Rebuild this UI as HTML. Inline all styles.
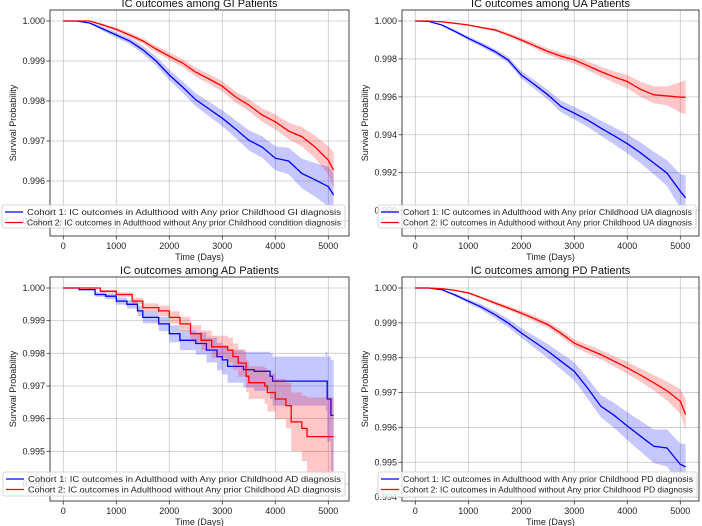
<!DOCTYPE html>
<html><head><meta charset="utf-8"><style>
body{margin:0;background:#fff;}
svg{display:block;font-family:"Liberation Sans",sans-serif;}
</style></head><body>
<svg id="c" width="702" height="526"></svg>
<script>
// ---- data ----
const xTicks=[0,1000,2000,3000,4000,5000];
// GI
const giT=[0,250,500,750,1000,1250,1500,1750,2000,2250,2500,2750,3000,3250,3500,3750,4000,4250,4500,4750,5000,5100];
const giBlue=[1,1,0.99995,0.9998,0.99965,0.9995,0.99928,0.999,0.99865,0.99835,0.99803,0.9978,0.99757,0.9973,0.99702,0.99685,0.99657,0.9965,0.99619,0.99603,0.99586,0.99565];
const giBlueCI=[0,0,0.00002,0.00005,0.00007,0.00008,0.0001,0.00011,0.00013,0.00014,0.00016,0.00018,0.0002,0.00022,0.00025,0.00027,0.0003,0.00033,0.00037,0.00042,0.0005,0.00055];
const giRed=[1,1,1,0.9999,0.99979,0.99965,0.9995,0.9993,0.99912,0.99895,0.99872,0.99855,0.99837,0.9981,0.9979,0.99765,0.99748,0.99725,0.99711,0.99685,0.99652,0.99627];
const giRedCI=[0,0,0.00001,0.00003,0.00005,0.00006,0.00007,0.00008,0.00009,0.0001,0.00011,0.00012,0.00013,0.00014,0.00015,0.00017,0.00019,0.00021,0.00024,0.00028,0.00035,0.00045];
// UA
const uaT=[0,250,500,750,1000,1250,1500,1750,2000,2250,2500,2750,3000,3250,3500,3750,4000,4250,4500,4750,5000,5100];
const uaBlue=[1,0.99998,0.99979,0.99945,0.99909,0.99875,0.99839,0.99795,0.99716,0.99665,0.99611,0.99549,0.99514,0.99478,0.99435,0.99395,0.99353,0.99305,0.99251,0.99198,0.99102,0.99067];
const uaBlueCI=[0,0.00001,0.00004,0.00008,0.0001,0.00012,0.00014,0.00016,0.0002,0.00023,0.00026,0.0003,0.00033,0.00036,0.0004,0.00045,0.0005,0.00055,0.0006,0.00068,0.0009,0.0012];
const uaRed=[1,1,0.99995,0.99988,0.99979,0.99965,0.99953,0.99928,0.999,0.9987,0.99839,0.99815,0.99795,0.99765,0.99733,0.99705,0.99681,0.9964,0.99611,0.99605,0.99598,0.99598];
const uaRedCI=[0,0,0.00001,0.00003,0.00004,0.00006,0.00008,0.0001,0.00012,0.00014,0.00016,0.00018,0.0002,0.00023,0.00026,0.0003,0.00035,0.0004,0.00045,0.0005,0.0008,0.0009];
// AD (step)
const adBlueT=[0,300,600,800,1000,1200,1400,1500,1800,2000,2200,2500,2700,2900,3000,3100,3400,3600,3900,3950,4950,4980,5050,5100];
const adBlue=[1,0.99995,0.9998,0.99975,0.9996,0.9995,0.9993,0.9991,0.9989,0.9986,0.9984,0.9983,0.9981,0.9979,0.9978,0.9976,0.9975,0.99745,0.9973,0.99715,0.99715,0.9966,0.9961,0.9961];
const adBlueCI=[0,0.00003,0.00007,0.00009,0.00011,0.00013,0.00016,0.00018,0.00022,0.00026,0.0003,0.00034,0.00038,0.00042,0.00045,0.0005,0.00055,0.0006,0.0007,0.00075,0.0009,0.0013,0.0017,0.0017];
const adRedT=[0,300,700,1000,1300,1500,1800,2000,2200,2400,2600,2800,3100,3200,3300,3450,3500,3800,3850,4000,4200,4300,4500,4600,5100];
const adRed=[1,1,0.9999,0.9998,0.9996,0.9994,0.9993,0.9991,0.9989,0.9986,0.9984,0.9982,0.9981,0.9979,0.9977,0.9973,0.9971,0.997,0.9968,0.9966,0.9964,0.9959,0.9957,0.99545,0.99545];
const adRedCI=[0,0.00001,0.00004,0.00007,0.0001,0.00013,0.00016,0.00019,0.00022,0.00026,0.0003,0.00034,0.00038,0.0004,0.00042,0.00048,0.0005,0.00055,0.00058,0.00062,0.0007,0.0009,0.001,0.0012,0.0012];
// PD
const pdT=[0,250,500,750,1000,1250,1500,1750,2000,2250,2500,2750,3000,3250,3500,3750,4000,4250,4500,4750,5000,5100];
const pdBlue=[1,1,0.99995,0.9998,0.99962,0.99945,0.99924,0.999,0.99871,0.99845,0.99819,0.9979,0.99761,0.99713,0.99661,0.99635,0.99604,0.99575,0.99546,0.99541,0.99494,0.99487];
const pdBlueCI=[0,0,0.00002,0.00004,0.00006,0.00008,0.0001,0.00012,0.00014,0.00017,0.0002,0.00023,0.00026,0.00029,0.00032,0.00036,0.0004,0.00044,0.00048,0.00053,0.0006,0.00065];
const pdRed=[1,1,0.99998,0.99993,0.99986,0.99972,0.99957,0.99943,0.99928,0.99912,0.99895,0.9987,0.99842,0.99825,0.99809,0.9979,0.99771,0.9975,0.99728,0.99705,0.99675,0.99637];
const pdRedCI=[0,0,0.00001,0.00002,0.00003,0.00004,0.00005,0.00006,0.00007,0.00008,0.00009,0.0001,0.00011,0.00012,0.00013,0.00015,0.00017,0.00019,0.00022,0.00027,0.00035,0.00045];
const yTicksGI=[1.000,0.999,0.998,0.997,0.996,0.995];
const yTicksUA=[1.000,0.998,0.996,0.994,0.992,0.990];
const yTicksAD=[1.000,0.999,0.998,0.997,0.996,0.995,0.994];
const yTicksPD=[1.000,0.999,0.998,0.997,0.996,0.995,0.994];

const NS='http://www.w3.org/2000/svg';
const svg=document.getElementById('c');
function mk(tag,attrs,parent){const e=document.createElementNS(NS,tag);for(const k in attrs)e.setAttribute(k,attrs[k]);(parent||svg).appendChild(e);return e;}

const panels=[
 {id:'gi',title:'IC outcomes among GI Patients',box:[50,10,349,236],x0:63.3,x1:328.3,yA:1.0,pA:21,yB:0.996,pB:181,yt:yTicksGI,step:false,
  s:[[giT,giBlue,giBlueCI,'#0000ff'],[giT,giRed,giRedCI,'#ff0000']],leg:[2,205,345,228],
  l1:'Cohort 1: IC outcomes in Adulthood with Any prior Childhood GI diagnosis',l2:'Cohort 2: IC outcomes in Adulthood without Any prior Childhood condition diagnosis'},
 {id:'ua',title:'IC outcomes among UA Patients',box:[402,10,699,236],x0:415.3,x1:680.3,yA:1.0,pA:21,yB:0.992,pB:172.7,yt:yTicksUA,step:false,
  s:[[uaT,uaBlue,uaBlueCI,'#0000ff'],[uaT,uaRed,uaRedCI,'#ff0000']],leg:[378,205,696,228],
  l1:'Cohort 1: IC outcomes in Adulthood with Any prior Childhood UA diagnosis',l2:'Cohort 2: IC outcomes in Adulthood without Any prior Childhood UA diagnosis'},
 {id:'ad',title:'IC outcomes among AD Patients',box:[50,277,349,501],x0:63.3,x1:328.3,yA:1.0,pA:288,yB:0.995,pB:451.3,yt:yTicksAD,step:true,
  s:[[adBlueT,adBlue,adBlueCI,'#0000ff'],[adRedT,adRed,adRedCI,'#ff0000']],leg:[3,472,345,496],
  l1:'Cohort 1: IC outcomes in Adulthood with Any prior Childhood AD diagnosis',l2:'Cohort 2: IC outcomes in Adulthood without Any prior Childhood AD diagnosis'},
 {id:'pd',title:'IC outcomes among PD Patients',box:[402,277,699,501],x0:415.3,x1:680.3,yA:1.0,pA:288,yB:0.995,pB:462.3,yt:yTicksPD,step:false,
  s:[[pdT,pdBlue,pdBlueCI,'#0000ff'],[pdT,pdRed,pdRedCI,'#ff0000']],leg:[378,472,697,497],
  l1:'Cohort 1: IC outcomes in Adulthood with Any prior Childhood PD diagnosis',l2:'Cohort 2: IC outcomes in Adulthood without Any prior Childhood PD diagnosis'}
];

panels.forEach(p=>{
 const [L,T,R,B]=p.box;
 const X=v=>p.x0+(p.x1-p.x0)*v/5000;
 const Y=v=>p.pA+(p.pB-p.pA)*(p.yA-v)/(p.yA-p.yB);
 const g=mk('g',{});
 
 
 const cp=mk('clipPath',{id:'cl-'+p.id},g);mk('rect',{x:L,y:T,width:R-L,height:B-T},cp);
 // grid + ticks
 xTicks.forEach(v=>{
  mk('line',{x1:X(v),x2:X(v),y1:T,y2:B,stroke:'#b0b0b0','stroke-width':0.8,'stroke-opacity':0.7},g);
  mk('line',{x1:X(v),x2:X(v),y1:B,y2:B+3.5,stroke:'#333','stroke-width':0.8},g);
  const t=mk('text',{x:X(v),y:B+13,'font-size':9,'text-anchor':'middle',fill:'#222'},g);t.textContent=v;
  
  
 });
 p.yt.forEach(v=>{
  mk('line',{x1:L,x2:R,y1:Y(v),y2:Y(v),stroke:'#b0b0b0','stroke-width':0.8,'stroke-opacity':0.7},g);
  mk('line',{x1:L-3.5,x2:L,y1:Y(v),y2:Y(v),stroke:'#333','stroke-width':0.8},g);
  const t=mk('text',{x:L-5,y:Y(v)+3,'font-size':9,'text-anchor':'end',fill:'#222'},g);t.textContent=v.toFixed(3);
  
  
 });
 const cg=mk('g',{'clip-path':'url(#cl-'+p.id+')'},g);
 p.s.forEach(([t,v,ci,col],si)=>{
  let pts=[],up=[],lo=[];
  for(let i=0;i<t.length;i++){
   if(p.step&&i>0){pts.push([X(t[i]),Y(v[i-1])]);up.push([X(t[i]),Y(v[i-1]+ci[i-1])]);lo.push([X(t[i]),Y(v[i-1]-ci[i-1])]);}
   pts.push([X(t[i]),Y(v[i])]);up.push([X(t[i]),Y(v[i]+ci[i])]);lo.push([X(t[i]),Y(v[i]-ci[i])]);
  }
  const band=up.concat(lo.slice().reverse()).map(q=>q[0].toFixed(1)+','+q[1].toFixed(1)).join(' ');
  const b=mk('polygon',{points:band,fill:col,'fill-opacity':0.22,stroke:'none'},cg);
  
  
  const ln=mk('polyline',{points:pts.map(q=>q[0].toFixed(1)+','+q[1].toFixed(1)).join(' '),fill:'none',stroke:col,'stroke-width':1.3},cg);
  
  
 });
 mk('rect',{x:L,y:T,width:R-L,height:B-T,fill:'none',stroke:'#333','stroke-width':0.9},g);
 const tt=mk('text',{x:(L+R)/2,y:T-3,'font-size':11,'text-anchor':'middle',fill:'#111'},g);tt.textContent=p.title;
 
 
 const xl=mk('text',{x:(L+R)/2,y:B+24,'font-size':9,'text-anchor':'middle',fill:'#222'},g);xl.textContent='Time (Days)';
 
 
 const yl=mk('text',{x:0,y:0,'font-size':9,'text-anchor':'middle',fill:'#222',transform:`translate(${L-34},${(T+B)/2}) rotate(-90)`},g);yl.textContent='Survival Probability';
 
 
 // legend
 const [a,b2,c,d]=p.leg;
 const lg=mk('g',{},g);
 
 
 mk('rect',{x:a,y:b2,width:c-a,height:d-b2,rx:2,fill:'#fff','fill-opacity':0.8,stroke:'#ccc','stroke-width':0.8},lg);
 [[p.l1,'#0000ff'],[p.l2,'#ff0000']].forEach(([txt,col],i)=>{
  const yy=b2+7+i*10.5;
  mk('line',{x1:a+3,x2:a+21,y1:yy,y2:yy,stroke:col,'stroke-width':1.3},lg);
  const t=mk('text',{x:a+25,y:yy+3,'font-size':8.6,fill:'#222',textLength:(c-a-29),lengthAdjust:'spacingAndGlyphs'},lg);t.textContent=txt;
  
  
 });
});
</script>
</body></html>
